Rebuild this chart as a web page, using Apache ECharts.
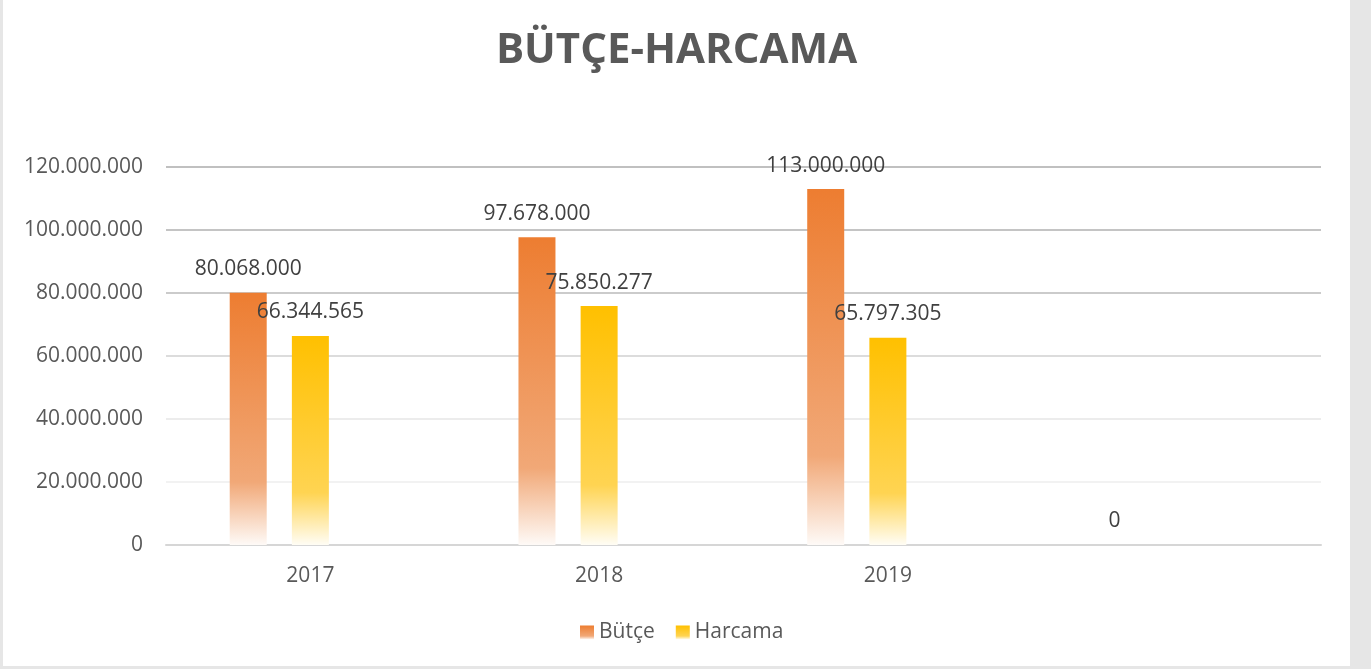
<!DOCTYPE html>
<html>
<head>
<meta charset="utf-8">
<script src="https://cdn.jsdelivr.net/npm/echarts@6/dist/echarts.min.js"></script>
<style>
html, body { margin: 0; padding: 0; background: #e6e6e6; }
#main { position: absolute; left: 3px; top: 0; width: 1347px; height: 666px; background: #fff; }
</style>
</head>
<body>
<div id="main"></div>
<script>
var years = ['2017', '2018', '2019', ''];
var butce = [80068000, 97678000, 113000000, 0];
var harcama = [66344565, 75850277, 65797305, '-'];
var bos = ['-', '-', '-', '-'];

function noktali(v) {
	return String(v).replace(/\B(?=(\d{3})+(?!\d))/g, '.');
}

var font = '"Open Sans", sans-serif';

var myChart = echarts.init(document.getElementById('main'));
var option = {
	animation: false,
	title: {
		text: 'BÜTÇE-HARCAMA',
		left: 'center',
		top: 25,
		textStyle: { color: '#595959', fontFamily: font, fontWeight: 'bold', fontSize: 42 }
	},
	legend: {
		data: ['Bütçe', 'Harcama'],
		left: 572,
		top: 617,
		icon: 'rect',
		itemWidth: 14,
		itemHeight: 14,
		itemGap: 21,
		textStyle: { color: '#595959', fontFamily: font, fontSize: 21 }
	},
	grid: { left: 163, right: 29, top: 167, bottom: 121 },
	xAxis: {
		type: 'category',
		data: years,
		axisTick: { show: false },
		axisLine: { lineStyle: { color: '#d6d6d6', width: 2 } },
		axisLabel: { color: '#595959', fontFamily: font, fontSize: 21, margin: 21 }
	},
	yAxis: {
		type: 'value',
		min: 0,
		max: 120000000,
		interval: 20000000,
		axisLine: { show: false },
		axisTick: { show: false },
		axisLabel: {
			color: '#595959', fontFamily: font, fontSize: 21, margin: 23,
			formatter: noktali
		},
		splitLine: {
			lineStyle: {
				width: 2,
				color: ['#d6d6d6', '#f2f2f2', '#ececec', '#dcdcdc', '#cbcbcb', '#c4c4c4', '#c0c0c0']
			}
		}
	},
	series: [{
		name: 'Bütçe',
		type: 'bar',
		data: butce,
		barWidth: 37,
		barGap: '68%',
		itemStyle: {
			color: new echarts.graphic.LinearGradient(0, 0, 0, 1, [
				{ offset: 0, color: '#ed7d31' },
				{ offset: 0.75, color: '#f1a877' },
				{ offset: 1, color: '#fefaf7' }
			])
		},
		label: {
			show: true, position: 'top', distance: 13,
			color: '#404040', fontFamily: font, fontSize: 21,
			formatter: function (p) { return noktali(p.value); }
		}
	}, {
		name: 'Harcama',
		type: 'bar',
		data: harcama,
		barWidth: 37,
		itemStyle: {
			color: new echarts.graphic.LinearGradient(0, 0, 0, 1, [
				{ offset: 0, color: '#ffc000' },
				{ offset: 0.75, color: '#ffd452' },
				{ offset: 1, color: '#fffdf5' }
			])
		},
		label: {
			show: true, position: 'top', distance: 13,
			color: '#404040', fontFamily: font, fontSize: 21,
			formatter: function (p) { return noktali(p.value); }
		}
	}, {
		name: 'bos',
		type: 'bar',
		data: bos,
		barWidth: 37
	}]
};
myChart.setOption(option);
</script>
</body>
</html>
